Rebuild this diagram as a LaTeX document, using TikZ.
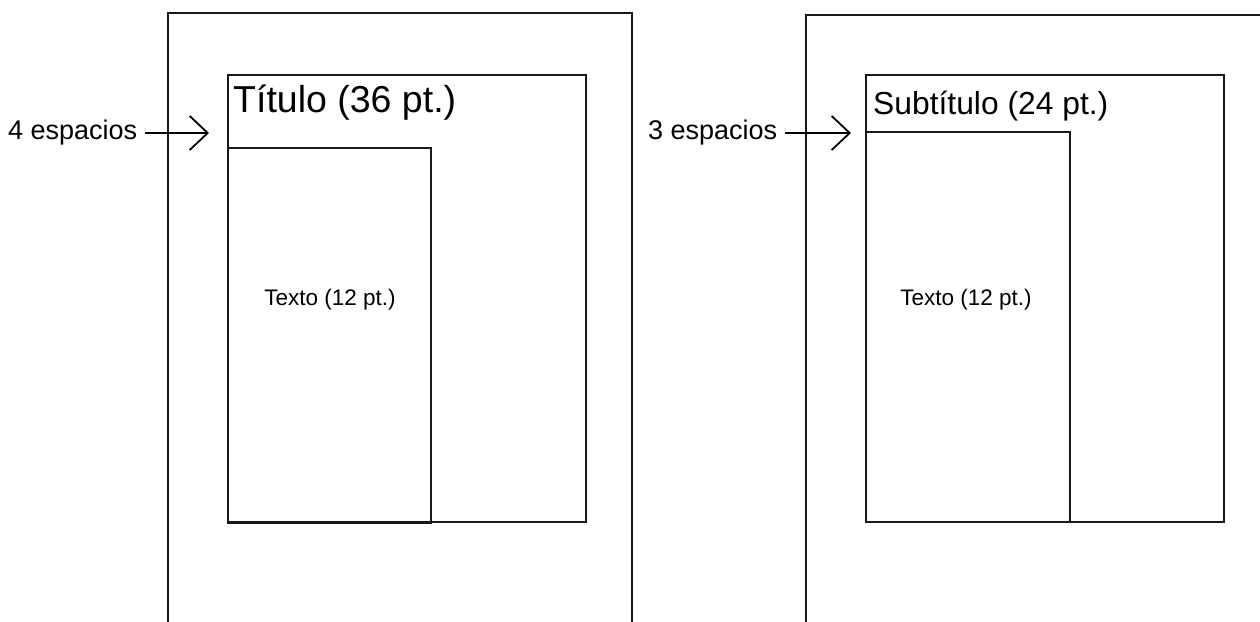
\documentclass[tikz,border=0pt]{standalone}
\usepackage{fontspec}
\setmainfont{Liberation Sans}
\usetikzlibrary{arrows.meta}
\begin{document}
\begin{tikzpicture}[x=1pt,y=-1pt,
  frame/.style={line width=2.5pt,draw=black!90},
  lbl/.style={inner sep=0pt,anchor=west,font=\fontsize{27}{30}\selectfont},
  txt/.style={inner sep=0pt,font=\fontsize{22.5}{26}\selectfont},
  arr/.style={line width=1.8pt,-{Straight Barb[length=18pt,width=34pt,line width=1.8pt]}}]
\useasboundingbox[fill=white] (0,0) rectangle (1260,621);
% left page
\draw[frame] (168,625) -- (168,13) -- (632,13) -- (632,625);
\draw[frame] (228,75) rectangle (586,522);
\draw[frame] (228,148) rectangle (431,523);
\node[inner sep=0pt,anchor=west,font=\fontsize{37.5}{40}\selectfont] (t1) at (233,103) {Título (36 pt.)};
\node[txt] (x1) at (330,300) {Texto (12 pt.)};
\node[lbl] (e1) at (8,133) {4 espacios};
\coordinate (a1) at (209,133);
\draw[arr] (e1.east) ++(8,0) -- (a1);
% right page
\draw[frame] (806,625) -- (806,15) -- (1265,15);
\draw[frame] (866,75) rectangle (1224,522);
\draw[frame] (866,132) rectangle (1070,522);
\node[inner sep=0pt,anchor=west,font=\fontsize{31.8}{34}\selectfont] (t2) at (873,106) {Subtítulo (24 pt.)};
\node[txt] (x2) at (966,300) {Texto (12 pt.)};
\node[lbl] (e2) at (648,133) {3 espacios};
\coordinate (a2) at (851,133);
\draw[arr] (e2.east) ++(8,0) -- (a2);
\end{tikzpicture}
\end{document}
